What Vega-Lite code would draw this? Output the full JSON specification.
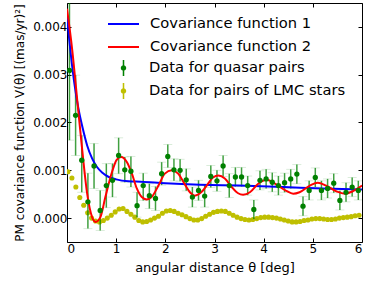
{
  "$schema": "https://vega.github.io/schema/vega-lite/v6.json",
  "width": 295,
  "height": 239,
  "autosize": "none",
  "padding": {"left": 67, "top": 3, "right": 8, "bottom": 39},
  "config": {
    "font": "DejaVu Sans",
    "view": {"stroke": "black", "strokeWidth": 1},
    "axis": {"grid": false, "domain": false, "tickColor": "black", "tickSize": -4, "tickWidth": 1, "labelColor": "black", "titleColor": "black", "labelFontSize": 12, "titleFontWeight": "normal"},
    "legend": {"labelFontSize": 14.7, "labelColor": "black", "labelFont": "DejaVu Sans", "labelLimit": 400, "padding": 0, "clipHeight": 16, "rowPadding": 7, "symbolOpacity": 1}
  },
  "datasets": {
    "quasar": [
      {"theta": 0.05, "v": 0.00309, "lo": 0.00163, "hi": 0.00455},
      {"theta": 0.175, "v": 0.00215, "lo": 0.00131, "hi": 0.00299},
      {"theta": 0.30, "v": 0.00121, "lo": 0.00054, "hi": 0.00173},
      {"theta": 0.425, "v": 0.00034, "lo": -0.00022, "hi": 0.00094},
      {"theta": 0.55, "v": 0.00109, "lo": 0.00062, "hi": 0.00156},
      {"theta": 0.675, "v": 0.00016, "lo": -0.00026, "hi": 0.00058},
      {"theta": 0.80, "v": 0.00068, "lo": 0.00022, "hi": 0.00114},
      {"theta": 0.925, "v": 0.00079, "lo": 0.00044, "hi": 0.00114},
      {"theta": 1.05, "v": 0.00131, "lo": 0.00093, "hi": 0.00168},
      {"theta": 1.175, "v": 0.00101, "lo": 0.00075, "hi": 0.00128},
      {"theta": 1.30, "v": 0.00098, "lo": 0.00065, "hi": 0.00129},
      {"theta": 1.425, "v": 0.00026, "lo": 0.00002, "hi": 0.00054},
      {"theta": 1.55, "v": 0.00068, "lo": 0.00037, "hi": 0.00094},
      {"theta": 1.675, "v": 0.00047, "lo": 0.0002, "hi": 0.00072},
      {"theta": 1.80, "v": 0.00041, "lo": 0.00016, "hi": 0.00066},
      {"theta": 1.925, "v": 0.00093, "lo": 0.00069, "hi": 0.00117},
      {"theta": 2.05, "v": 0.00129, "lo": 0.00106, "hi": 0.00154},
      {"theta": 2.175, "v": 0.00101, "lo": 0.00078, "hi": 0.00124},
      {"theta": 2.30, "v": 0.00100, "lo": 0.00077, "hi": 0.00123},
      {"theta": 2.425, "v": 0.00080, "lo": 0.00057, "hi": 0.00103},
      {"theta": 2.55, "v": 0.00044, "lo": 0.00023, "hi": 0.00065},
      {"theta": 2.675, "v": 0.00058, "lo": 0.00037, "hi": 0.00079},
      {"theta": 2.80, "v": 0.00046, "lo": 0.00023, "hi": 0.00069},
      {"theta": 2.925, "v": 0.00087, "lo": 0.00064, "hi": 0.0011},
      {"theta": 3.05, "v": 0.00078, "lo": 0.00056, "hi": 0.001},
      {"theta": 3.175, "v": 0.00109, "lo": 0.00087, "hi": 0.00131},
      {"theta": 3.30, "v": 0.00068, "lo": 0.00043, "hi": 0.00093},
      {"theta": 3.425, "v": 0.00086, "lo": 0.00066, "hi": 0.00106},
      {"theta": 3.55, "v": 0.00086, "lo": 0.00066, "hi": 0.00106},
      {"theta": 3.675, "v": 0.00068, "lo": 0.00048, "hi": 0.00088},
      {"theta": 3.80, "v": 0.00018, "lo": -0.00002, "hi": 0.00038},
      {"theta": 3.925, "v": 0.00079, "lo": 0.00059, "hi": 0.00099},
      {"theta": 4.05, "v": 0.00082, "lo": 0.00062, "hi": 0.00102},
      {"theta": 4.175, "v": 0.00075, "lo": 0.00055, "hi": 0.00095},
      {"theta": 4.30, "v": 0.00068, "lo": 0.00048, "hi": 0.00088},
      {"theta": 4.425, "v": 0.00074, "lo": 0.00054, "hi": 0.00094},
      {"theta": 4.55, "v": 0.00082, "lo": 0.00062, "hi": 0.00102},
      {"theta": 4.675, "v": 0.00092, "lo": 0.00072, "hi": 0.00112},
      {"theta": 4.80, "v": 0.00025, "lo": 0.00005, "hi": 0.00045},
      {"theta": 4.925, "v": 0.00058, "lo": 0.00038, "hi": 0.00078},
      {"theta": 5.05, "v": 0.00085, "lo": 0.00065, "hi": 0.00105},
      {"theta": 5.175, "v": 0.00058, "lo": 0.00038, "hi": 0.00078},
      {"theta": 5.30, "v": 0.00062, "lo": 0.00042, "hi": 0.00082},
      {"theta": 5.425, "v": 0.00073, "lo": 0.00053, "hi": 0.00093},
      {"theta": 5.55, "v": 0.00037, "lo": 0.00017, "hi": 0.00057},
      {"theta": 5.675, "v": 0.00054, "lo": 0.00034, "hi": 0.00074},
      {"theta": 5.80, "v": 0.00065, "lo": 0.00045, "hi": 0.00085},
      {"theta": 5.925, "v": 0.00058, "lo": 0.00038, "hi": 0.00078}
    ],
    "lmc": [
      {"theta": 0.02, "v": 0.00097}, {"theta": 0.10, "v": 0.00084}, {"theta": 0.18, "v": 0.00065}, {"theta": 0.26, "v": 0.00043},
      {"theta": 0.34, "v": 0.00027}, {"theta": 0.42, "v": 0.00011}, {"theta": 0.50, "v": 0.0}, {"theta": 0.58, "v": -0.00006},
      {"theta": 0.66, "v": -0.00008}, {"theta": 0.74, "v": -0.00005}, {"theta": 0.82, "v": 0.0}, {"theta": 0.90, "v": 0.00006},
      {"theta": 0.98, "v": 0.00013}, {"theta": 1.06, "v": 0.00019}, {"theta": 1.14, "v": 0.0002}, {"theta": 1.22, "v": 0.00014},
      {"theta": 1.30, "v": 0.00008}, {"theta": 1.38, "v": 0.00002}, {"theta": 1.46, "v": -0.00005}, {"theta": 1.54, "v": -0.00008},
      {"theta": 1.62, "v": -0.00007}, {"theta": 1.70, "v": -0.00004}, {"theta": 1.78, "v": 0.0}, {"theta": 1.86, "v": 0.00004},
      {"theta": 1.94, "v": 0.0001}, {"theta": 2.02, "v": 0.00015}, {"theta": 2.10, "v": 0.00016}, {"theta": 2.18, "v": 0.00014},
      {"theta": 2.26, "v": 0.0001}, {"theta": 2.34, "v": 0.00007}, {"theta": 2.42, "v": 0.00003}, {"theta": 2.50, "v": -0.00001},
      {"theta": 2.58, "v": -0.00004}, {"theta": 2.66, "v": -0.00004}, {"theta": 2.74, "v": -0.00001}, {"theta": 2.82, "v": 0.00004},
      {"theta": 2.90, "v": 0.00008}, {"theta": 2.98, "v": 0.00012}, {"theta": 3.06, "v": 0.00014}, {"theta": 3.14, "v": 0.00015},
      {"theta": 3.22, "v": 0.00014}, {"theta": 3.30, "v": 0.0001}, {"theta": 3.38, "v": 0.00006}, {"theta": 3.46, "v": 0.00002},
      {"theta": 3.54, "v": -0.00001}, {"theta": 3.62, "v": -0.00003}, {"theta": 3.70, "v": -0.00004}, {"theta": 3.78, "v": -0.00003},
      {"theta": 3.86, "v": -0.00001}, {"theta": 3.94, "v": 0.00001}, {"theta": 4.02, "v": 0.00002}, {"theta": 4.10, "v": 0.00002},
      {"theta": 4.18, "v": 0.00001}, {"theta": 4.26, "v": 0.0}, {"theta": 4.34, "v": -0.00002}, {"theta": 4.42, "v": -0.00004},
      {"theta": 4.50, "v": -0.00006}, {"theta": 4.58, "v": -0.00008}, {"theta": 4.66, "v": -0.00008}, {"theta": 4.74, "v": -0.00007},
      {"theta": 4.82, "v": -0.00005}, {"theta": 4.90, "v": -0.00004}, {"theta": 4.98, "v": -0.00002}, {"theta": 5.06, "v": -0.00001},
      {"theta": 5.14, "v": -0.00001}, {"theta": 5.22, "v": -0.00002}, {"theta": 5.30, "v": -0.00003}, {"theta": 5.38, "v": -0.00003},
      {"theta": 5.46, "v": -0.00002}, {"theta": 5.54, "v": 0.0}, {"theta": 5.62, "v": 0.00001}, {"theta": 5.70, "v": 0.00002},
      {"theta": 5.78, "v": 0.00003}, {"theta": 5.86, "v": 0.00005}, {"theta": 5.94, "v": 0.00006}
    ],
    "cov1": [
      {"theta": 0.0, "v": 0.0042}, {"theta": 0.04, "v": 0.00379}, {"theta": 0.107, "v": 0.00316}, {"theta": 0.175, "v": 0.00264},
      {"theta": 0.24, "v": 0.00225}, {"theta": 0.31, "v": 0.00192}, {"theta": 0.41, "v": 0.00152}, {"theta": 0.51, "v": 0.00125},
      {"theta": 0.61, "v": 0.00107}, {"theta": 0.72, "v": 0.00095}, {"theta": 0.85, "v": 0.00086}, {"theta": 1.0, "v": 0.00081},
      {"theta": 1.25, "v": 0.00077}, {"theta": 1.5, "v": 0.00076}, {"theta": 2.0, "v": 0.00073}, {"theta": 2.7, "v": 0.0007},
      {"theta": 3.5, "v": 0.00068}, {"theta": 4.4, "v": 0.00065}, {"theta": 5.2, "v": 0.00062}, {"theta": 6.0, "v": 0.0006}
    ],
    "cov2": [
      {"theta": 0.0, "v": 0.00438}, {"theta": 0.107, "v": 0.00351}, {"theta": 0.209, "v": 0.00246}, {"theta": 0.31, "v": 0.00142},
      {"theta": 0.41, "v": 0.00051}, {"theta": 0.51, "v": 0.00002}, {"theta": 0.58, "v": -0.00008}, {"theta": 0.68, "v": 0.00002},
      {"theta": 0.78, "v": 0.00044}, {"theta": 0.92, "v": 0.00098}, {"theta": 1.01, "v": 0.00122}, {"theta": 1.10, "v": 0.00128},
      {"theta": 1.22, "v": 0.00117}, {"theta": 1.32, "v": 0.00093}, {"theta": 1.42, "v": 0.00062}, {"theta": 1.52, "v": 0.00044},
      {"theta": 1.62, "v": 0.00039}, {"theta": 1.72, "v": 0.00044}, {"theta": 1.86, "v": 0.00068}, {"theta": 1.99, "v": 0.00093},
      {"theta": 2.13, "v": 0.001}, {"theta": 2.26, "v": 0.00093}, {"theta": 2.40, "v": 0.0007}, {"theta": 2.50, "v": 0.00054},
      {"theta": 2.60, "v": 0.00047}, {"theta": 2.74, "v": 0.00055}, {"theta": 2.87, "v": 0.00072}, {"theta": 2.97, "v": 0.00085},
      {"theta": 3.08, "v": 0.00089}, {"theta": 3.21, "v": 0.00083}, {"theta": 3.35, "v": 0.00065}, {"theta": 3.48, "v": 0.00052},
      {"theta": 3.58, "v": 0.00049}, {"theta": 3.72, "v": 0.00054}, {"theta": 3.89, "v": 0.00072}, {"theta": 4.06, "v": 0.0008},
      {"theta": 4.23, "v": 0.00072}, {"theta": 4.33, "v": 0.00065}, {"theta": 4.46, "v": 0.00057}, {"theta": 4.60, "v": 0.00051},
      {"theta": 4.73, "v": 0.00054}, {"theta": 4.94, "v": 0.00068}, {"theta": 5.10, "v": 0.00074}, {"theta": 5.27, "v": 0.00068},
      {"theta": 5.48, "v": 0.00056}, {"theta": 5.65, "v": 0.00051}, {"theta": 5.81, "v": 0.00056}, {"theta": 6.0, "v": 0.00068}
    ]
  },
  "layer": [
    {
      "data": {"name": "lmc"},
      "mark": {"type": "point", "filled": true, "size": 26, "opacity": 1, "clip": true},
      "encoding": {
        "x": {"field": "theta", "type": "quantitative", "scale": {"domain": [0, 6], "nice": false}, "axis": null},
        "y": {"field": "v", "type": "quantitative", "scale": {"domain": [-0.0005, 0.0045], "nice": false, "zero": false}, "axis": null},
        "fill": {"datum": "Data for pairs of LMC stars", "type": "nominal",
          "scale": {"domain": ["Data for quasar pairs", "Data for pairs of LMC stars"], "range": ["#008000", "#bfbf00"]},
          "legend": {"title": null, "orient": "none", "legendX": 47, "legendY": 57, "symbolSize": 289, "labelOffset": 16,
            "symbolType": "M-0.09,-1H0.09V1H-0.09ZM0.32,0A0.32,0.32,0,1,1,-0.32,0A0.32,0.32,0,1,1,0.32,0Z"}
        }
      }
    },
    {
      "data": {"name": "quasar"},
      "mark": {"type": "rule", "strokeWidth": 1.5, "opacity": 0.75, "color": "#008000", "clip": true},
      "encoding": {
        "x": {"field": "theta", "type": "quantitative", "axis": null},
        "y": {"field": "lo", "type": "quantitative", "axis": null},
        "y2": {"field": "hi"}
      }
    },
    {
      "data": {"name": "quasar"},
      "mark": {"type": "tick", "orient": "horizontal", "size": 9, "thickness": 1, "opacity": 0.15, "color": "#008000", "clip": true},
      "encoding": {
        "x": {"field": "theta", "type": "quantitative", "axis": null},
        "y": {"field": "lo", "type": "quantitative", "axis": null}
      }
    },
    {
      "data": {"name": "quasar"},
      "mark": {"type": "tick", "orient": "horizontal", "size": 9, "thickness": 1, "opacity": 0.15, "color": "#008000", "clip": true},
      "encoding": {
        "x": {"field": "theta", "type": "quantitative", "axis": null},
        "y": {"field": "hi", "type": "quantitative", "axis": null}
      }
    },
    {
      "data": {"name": "cov1"},
      "mark": {"type": "line", "strokeWidth": 2, "interpolate": "monotone", "clip": true},
      "encoding": {
        "x": {"field": "theta", "type": "quantitative",
          "axis": {"orient": "bottom", "values": [0, 1, 2, 3, 4, 5, 6], "format": "d", "title": "angular distance θ [deg]", "titleFontSize": 13, "labelPadding": 5, "titlePadding": 7}},
        "y": {"field": "v", "type": "quantitative",
          "axis": {"orient": "left", "values": [0, 0.001, 0.002, 0.003, 0.004], "format": ".3f", "title": "PM covariance function V(θ) [(mas/yr)²]", "titleFontSize": 12, "labelPadding": 4, "titlePadding": 6}},
        "stroke": {"datum": "Covariance function 1", "type": "nominal",
          "scale": {"domain": ["Covariance function 1", "Covariance function 2"], "range": ["#0000ff", "#ff0000"]},
          "legend": {"title": null, "orient": "none", "legendX": 40, "legendY": 13, "symbolType": "stroke", "symbolSize": 961, "symbolStrokeWidth": 2, "labelOffset": 10}
        }
      }
    },
    {
      "data": {"name": "cov2"},
      "mark": {"type": "line", "strokeWidth": 2, "interpolate": "monotone", "clip": true},
      "encoding": {
        "x": {"field": "theta", "type": "quantitative",
          "axis": {"orient": "top", "values": [0, 1, 2, 3, 4, 5, 6], "labels": false, "title": null}},
        "y": {"field": "v", "type": "quantitative",
          "axis": {"orient": "right", "values": [0, 0.001, 0.002, 0.003, 0.004], "labels": false, "title": null}},
        "stroke": {"datum": "Covariance function 2", "type": "nominal"}
      }
    },
    {
      "data": {"name": "quasar"},
      "mark": {"type": "point", "filled": true, "size": 28, "opacity": 1, "clip": true},
      "encoding": {
        "x": {"field": "theta", "type": "quantitative", "axis": null},
        "y": {"field": "v", "type": "quantitative", "axis": null},
        "fill": {"datum": "Data for quasar pairs", "type": "nominal"}
      }
    }
  ],
  "resolve": {"axis": {"x": "independent", "y": "independent"}}
}
